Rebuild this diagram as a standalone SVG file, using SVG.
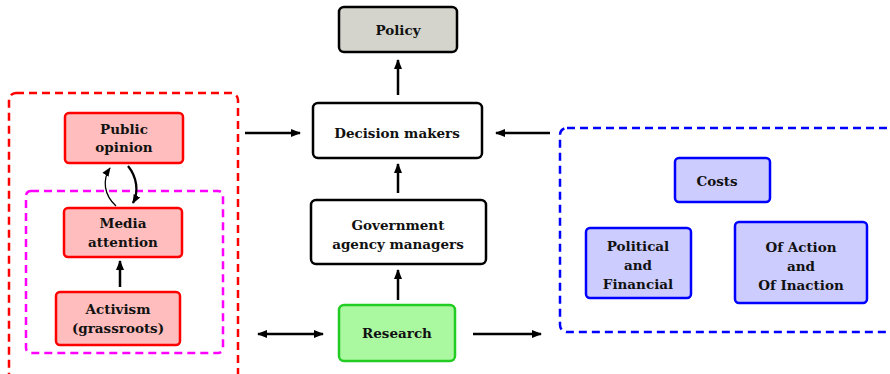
<svg xmlns="http://www.w3.org/2000/svg" width="890" height="374" viewBox="0 0 890 374">
<defs>
<style>
text{font-family:'DejaVu Serif',serif;font-weight:bold;font-size:13.5px;fill:#111;text-anchor:middle}
.bx{stroke-width:2.5}
.red{fill:#ffbdbd;stroke:#ff0000}
.blue{fill:#ccccff;stroke:#0000ff}
.wht{fill:#fff;stroke:#000}
.gray{fill:#d4d4cc;stroke:#000}
.grn{fill:#aaf8a0;stroke:#22cc22}
.dash{fill:none;stroke-width:2.5;stroke-dasharray:8 5}
.ln{stroke:#000;stroke-width:2.5;fill:none}
</style>
<marker id="ah" viewBox="0 0 10 10" refX="9" refY="5" markerWidth="4" markerHeight="4" orient="auto-start-reverse" markerUnits="strokeWidth"><path d="M0,1 L10,5 L0,9 Z" fill="#000"/></marker>
<marker id="ah2" viewBox="0 0 10 10" refX="9" refY="5" markerWidth="7" markerHeight="7" orient="auto" markerUnits="strokeWidth"><path d="M0,1 L10,5 L0,9 Z" fill="#000"/></marker>
</defs>
<g id="group-red"><rect x="9" y="93" width="229" height="300" rx="7" class="dash" stroke="#ff0000"/></g>
<g id="group-magenta"><rect x="26" y="191" width="197" height="162" rx="5" class="dash" stroke="#ff00ff"/></g>
<g id="group-blue"><rect x="560" y="128" width="360" height="204" rx="7" class="dash" stroke="#0000ff"/></g>
<g id="public-opinion"><rect x="65" y="113" width="118" height="50" rx="4" class="bx red"/><text x="124" y="134">Public</text><text x="124" y="152">opinion</text></g>
<g id="media-attention"><rect x="64" y="208" width="118" height="49" rx="4" class="bx red"/><text x="123" y="228">Media</text><text x="123" y="247">attention</text></g>
<g id="activism"><rect x="56" y="292" width="124" height="53" rx="4" class="bx red"/><text x="118" y="314">Activism</text><text x="118" y="333">(grassroots)</text></g>
<g id="policy"><rect x="339" y="7" width="118" height="45" rx="5" class="bx gray"/><text x="398" y="35">Policy</text></g>
<g id="decision-makers"><rect x="313" y="103" width="169" height="55" rx="5" class="bx wht"/><text x="397" y="138">Decision makers</text></g>
<g id="government"><rect x="311" y="200" width="175" height="64" rx="5" class="bx wht"/><text x="398" y="230">Government</text><text x="398" y="249">agency managers</text></g>
<g id="research"><rect x="339" y="305" width="116" height="56" rx="5" class="bx grn"/><text x="397" y="338">Research</text></g>
<g id="costs"><rect x="675" y="158" width="95" height="44" rx="4" class="bx blue"/><text x="717" y="186">Costs</text></g>
<g id="political"><rect x="586" y="228" width="105" height="70" rx="4" class="bx blue"/><text x="638" y="251">Political</text><text x="638" y="270">and</text><text x="638" y="289">Financial</text></g>
<g id="of-action"><rect x="735" y="222" width="132" height="81" rx="4" class="bx blue"/><text x="801" y="252">Of Action</text><text x="801" y="271">and</text><text x="801" y="290">Of Inaction</text></g>
<g id="connectors">
<line x1="398" y1="95" x2="398" y2="60" class="ln" marker-end="url(#ah)"/>
<line x1="398" y1="193" x2="398" y2="164" class="ln" marker-end="url(#ah)"/>
<line x1="398" y1="300" x2="398" y2="270" class="ln" marker-end="url(#ah)"/>
<line x1="245" y1="133" x2="300" y2="133" class="ln" marker-end="url(#ah)"/>
<line x1="550" y1="133" x2="496" y2="133" class="ln" marker-end="url(#ah)"/>
<line x1="258" y1="334" x2="323" y2="334" class="ln" marker-start="url(#ah)" marker-end="url(#ah)"/>
<line x1="473" y1="334" x2="541" y2="334" class="ln" marker-end="url(#ah)"/>
<line x1="120" y1="287" x2="120" y2="261" class="ln" marker-end="url(#ah)"/>
<path d="M116,206 C104,195 102,180 110,168" stroke="#000" stroke-width="1.3" fill="none" marker-end="url(#ah2)"/>
<path d="M128,166 C137,177 139,192 133,203" stroke="#000" stroke-width="2.3" fill="none" marker-end="url(#ah)"/>
</g>
</svg>
